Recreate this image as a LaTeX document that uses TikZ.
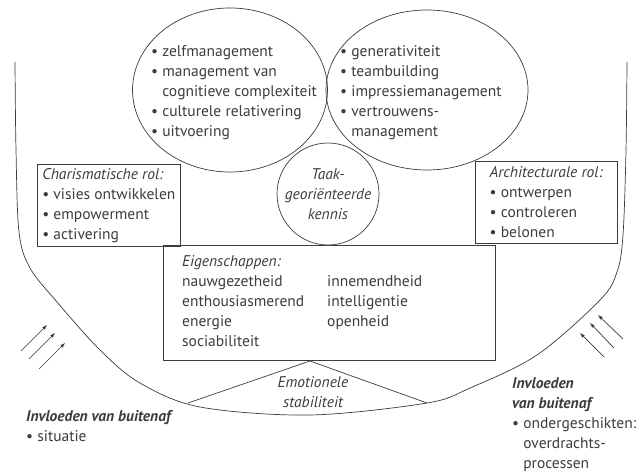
\documentclass[tikz,border=0pt]{standalone}
\usepackage{fontspec}
\setmainfont{PT Sans}
\usepackage{xcolor}
\usetikzlibrary{shapes.geometric, arrows}
\definecolor{inkgray}{HTML}{3C3C3C}
\newcommand{\tekstmaat}{\fontsize{15.5}{20}\selectfont}

\begin{document}
\begin{tikzpicture}[x=1pt, y=-1pt,
		lijn/.style={draw=inkgray, line width=0.7pt},
		tekst/.style={text=inkgray, font=\tekstmaat, align=left, inner sep=0pt},
		rolbox/.style={lijn, tekst, inner sep=3pt, minimum width=143pt, minimum height=82pt, anchor=north west}]
		\useasboundingbox (0,0) rectangle (640,473);

		% Bowl
		\draw[lijn] plot[smooth, tension=0.55] coordinates {(15,62) (16,150) (19,232) (30,268) (57,302) (100,350) (140,383) (200,407) (310,415) (427,403) (470,388) (537,355) (600,300) (617,272) (623,235) (626,150) (627,62)};

		% Three circles
		\node[lijn, ellipse, minimum width=195pt, minimum height=164pt] (zelfcirkel) at (230,90) {};
		\node[lijn, ellipse, minimum width=202pt, minimum height=160pt] (teamcirkel) at (427,90) {};
		\node[lijn, circle, tekst, align=center, font=\tekstmaat\itshape, minimum size=102pt] (taakkennis) at (328,194) {Taak-\\georiënteerde\\kennis};

		\node[tekst, anchor=north west] (zelflijst) at (151,45) {
				\textbullet\ zelfmanagement\\
				\textbullet\ management van\\
				\hphantom{\textbullet\ }cognitieve complexiteit\\
				\textbullet\ culturele relativering\\
				\textbullet\ uitvoering
			};
		\node[tekst, anchor=north west] (teamlijst) at (340,45) {
				\textbullet\ generativiteit\\
				\textbullet\ teambuilding\\
				\textbullet\ impressiemanagement\\
				\textbullet\ vertrouwens-\\
				\hphantom{\textbullet\ }management
			};

		% Role boxes
		\node[rolbox] (charisma) at (37,164) {
				\textit{Charismatische rol:}\\
				\textbullet\ visies ontwikkelen\\
				\textbullet\ empowerment\\
				\textbullet\ activering
			};
		\node[rolbox, minimum width=142pt] (architectuur) at (475,161) {
				\textit{Architecturale rol:}\\
				\textbullet\ ontwerpen\\
				\textbullet\ controleren\\
				\textbullet\ belonen
			};

		% Traits box
		\node[lijn, minimum width=332pt, minimum height=115pt, anchor=north west] (eigenschappen) at (163,245) {};
		\node[tekst, anchor=north west] (eiglinks) at (182,255) {
				\textit{Eigenschappen:}\\
				nauwgezetheid\\
				enthousiasmerend\\
				energie\\
				sociabiliteit
			};
		\node[tekst, anchor=north west] (eigrechts) at (327,275) {
				innemendheid\\
				intelligentie\\
				openheid
			};

		% Emotional stability wedge
		\coordinate (emotop) at (310,361);
		\coordinate (emolinks) at (188,403);
		\coordinate (emorechts) at (427,403);
		\draw[lijn] (emolinks) -- (emotop) -- (emorechts);
		\node[tekst, align=center, font=\tekstmaat\itshape] (emotie) at (313,392) {Emotionele\\stabiliteit};

		% Outside influences
		\node[tekst, anchor=north west] (invloedlinks) at (26,410) {
				\textbf{\textit{Invloeden van buitenaf}}\\
				\textbullet\ situatie
			};
		\node[tekst, anchor=north west] (invloedrechts) at (512,377) {
				\textbf{\textit{Invloeden}}\\
				\textbf{\textit{van buitenaf}}\\
				\textbullet\ ondergeschikten:\\
				\hphantom{\textbullet\ }overdrachts-\\
				\hphantom{\textbullet\ }processen
			};

		% Arrows
		\coordinate (lstart1) at (21,351);  \coordinate (leind1) at (47,325);
		\coordinate (lstart2) at (29,359);  \coordinate (leind2) at (55,333);
		\coordinate (lstart3) at (39,369);  \coordinate (leind3) at (65,343);
		\coordinate (rstart1) at (623,339); \coordinate (reind1) at (598,315);
		\coordinate (rstart2) at (614,348); \coordinate (reind2) at (590,323);
		\coordinate (rstart3) at (604,357); \coordinate (reind3) at (580,333);
		\draw[lijn, -latex] (lstart1) -- (leind1);
		\draw[lijn, -latex] (lstart2) -- (leind2);
		\draw[lijn, -latex] (lstart3) -- (leind3);
		\draw[lijn, -latex] (rstart1) -- (reind1);
		\draw[lijn, -latex] (rstart2) -- (reind2);
		\draw[lijn, -latex] (rstart3) -- (reind3);
	\end{tikzpicture}
\end{document}
